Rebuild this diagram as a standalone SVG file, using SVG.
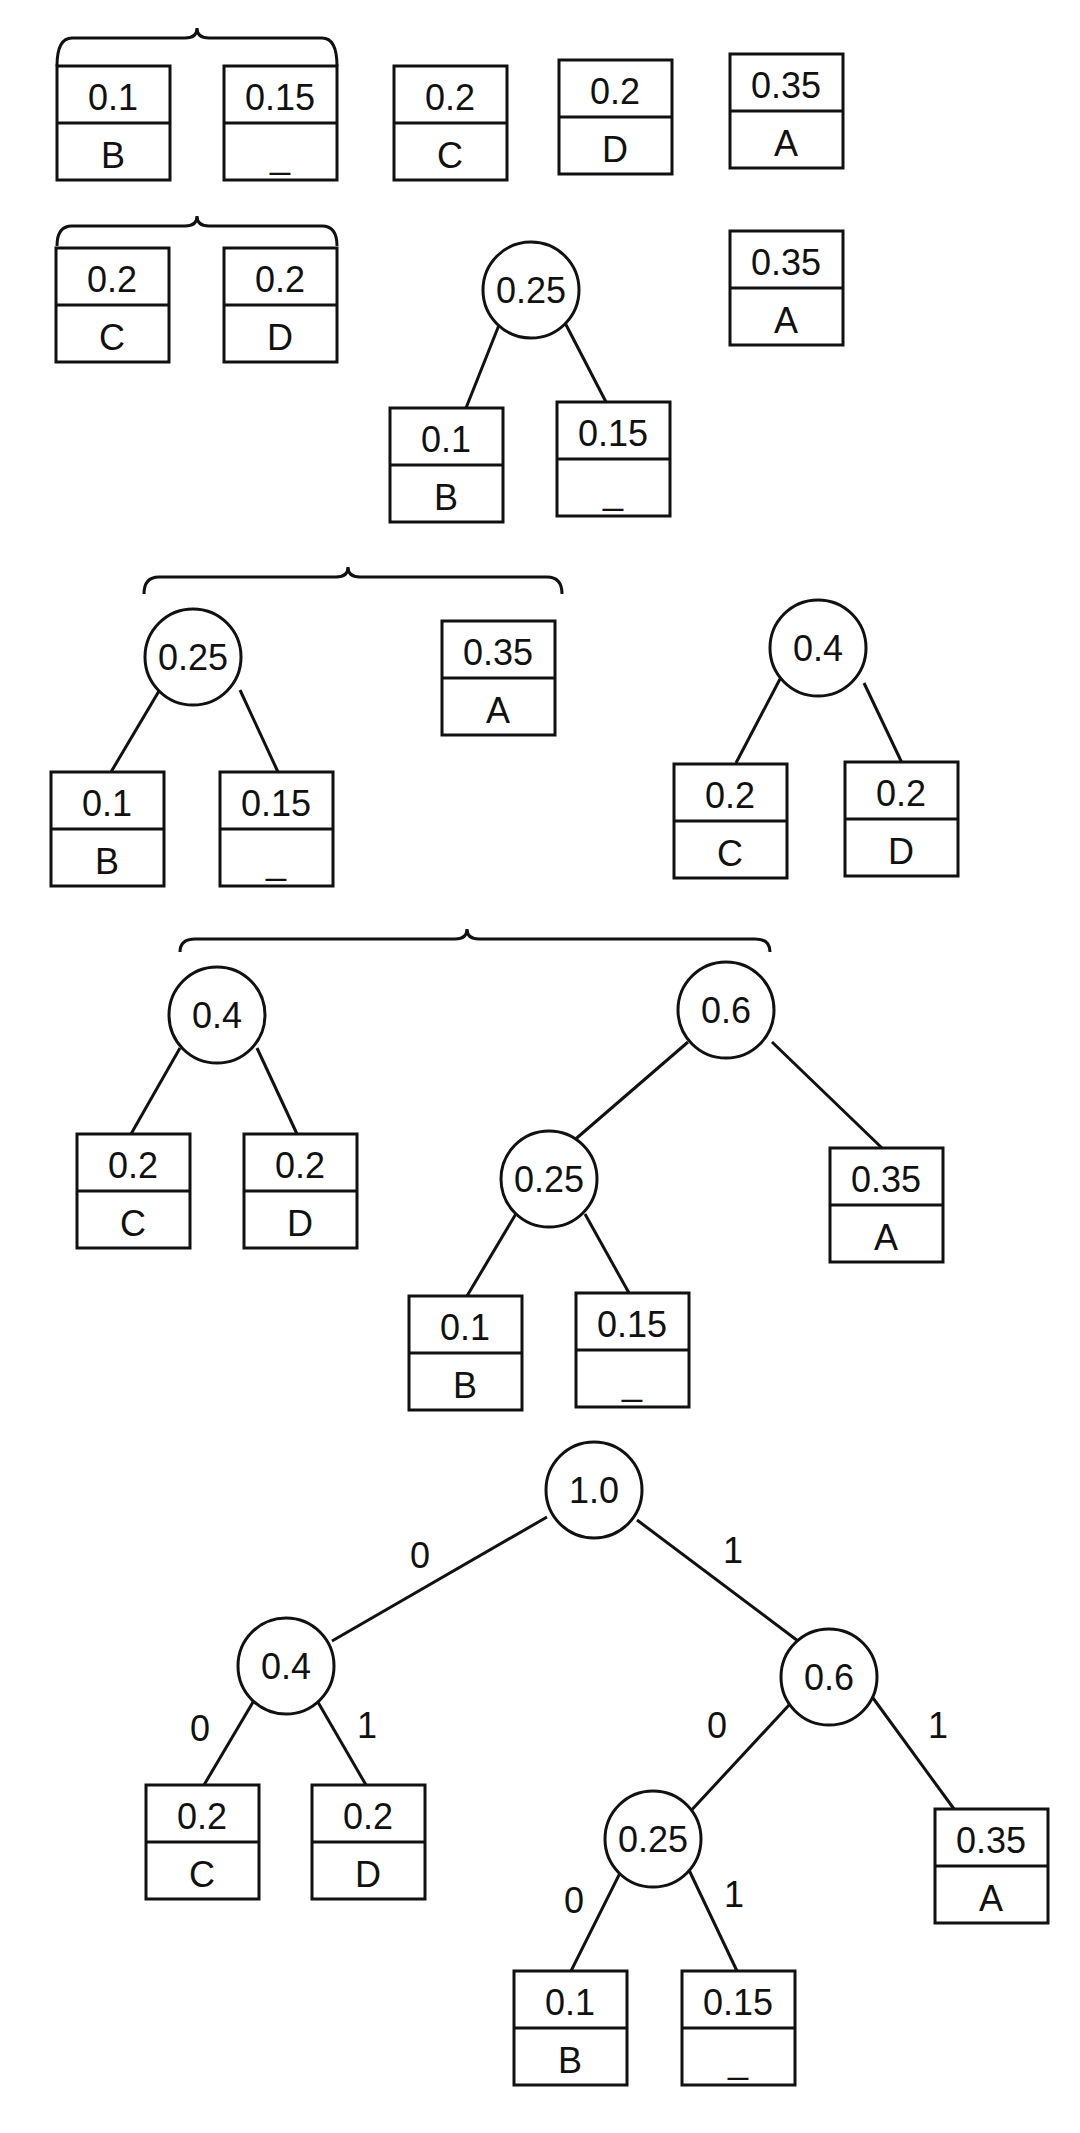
<svg xmlns="http://www.w3.org/2000/svg" width="1080" height="2133" viewBox="0 0 1080 2133">
<style>
rect,circle{fill:#fff;stroke:#111;stroke-width:3}
.d,.e line,path{stroke:#111;stroke-width:3;fill:none}
text{font-family:"Liberation Sans",Arial,sans-serif;font-size:36px;fill:#111;text-anchor:middle}
</style>
<defs>
<g id="bx"><rect width="113" height="114"/><line class="d" x1="0" y1="57" x2="113" y2="57"/></g>
</defs>
<rect x="0" y="0" width="1080" height="2133" style="fill:#fff;stroke:none"/>
<g id="braces">
<path d="M57,66 Q57,38 72,38 L185,38 Q197,38 197,28 Q197,38 209,38 L322,38 Q337,38 337,66"/>
<path d="M57,246 Q57,226 72,226 L185,226 Q197,226 197,216 Q197,226 209,226 L322,226 Q337,226 337,246"/>
<path d="M144,594 Q144,577 159,577 L336,577 Q348,577 348,567 Q348,577 360,577 L547,577 Q562,577 562,594"/>
<path d="M180,952 Q180,939 195,939 L455,939 Q467,939 467,929 Q467,939 479,939 L755,939 Q770,939 770,952"/>
</g>
<g id="connectors" class="e">
<line x1="501" y1="320" x2="466" y2="408"/><line x1="562" y1="317" x2="606" y2="402"/>
<line x1="159" y1="691" x2="111" y2="772"/><line x1="240" y1="690" x2="278" y2="772"/>
<line x1="780" y1="679" x2="736" y2="763"/><line x1="864" y1="683" x2="902" y2="763"/>
<line x1="180" y1="1048" x2="131" y2="1134"/><line x1="257" y1="1048" x2="297" y2="1134"/>
<line x1="688" y1="1042" x2="571" y2="1143"/><line x1="772" y1="1042" x2="882" y2="1148"/>
<line x1="517" y1="1212" x2="467" y2="1296"/><line x1="585" y1="1214" x2="629" y2="1293"/>
<line x1="547" y1="1517" x2="332" y2="1641"/><line x1="637" y1="1520" x2="802" y2="1644"/>
<line x1="256" y1="1697" x2="204" y2="1785"/><line x1="315" y1="1697" x2="366" y2="1785"/>
<line x1="790" y1="1704" x2="687" y2="1815"/><line x1="873" y1="1698" x2="954" y2="1809"/>
<line x1="621" y1="1871" x2="571" y2="1971"/><line x1="689" y1="1870" x2="737" y2="1971"/>
<text x="420" y="1568">0</text><text x="733" y="1563">1</text>
<text x="200" y="1741">0</text><text x="367" y="1738">1</text>
<text x="717" y="1738">0</text><text x="938" y="1738">1</text>
<text x="574" y="1913">0</text><text x="734" y="1907">1</text>
</g>
<g id="r1B" transform="translate(57,66)"><use href="#bx"/><text x="56" y="44">0.1</text><text x="56" y="102">B</text></g>
<g id="r1U" transform="translate(224,66)"><use href="#bx"/><text x="56" y="44">0.15</text><text x="56" y="102">_</text></g>
<g id="r1C" transform="translate(394,66)"><use href="#bx"/><text x="56" y="44">0.2</text><text x="56" y="102">C</text></g>
<g id="r1D" transform="translate(559,60)"><use href="#bx"/><text x="56" y="44">0.2</text><text x="56" y="102">D</text></g>
<g id="r1A" transform="translate(730,54)"><use href="#bx"/><text x="56" y="44">0.35</text><text x="56" y="102">A</text></g>
<g id="r2C" transform="translate(56,248)"><use href="#bx"/><text x="56" y="44">0.2</text><text x="56" y="102">C</text></g>
<g id="r2D" transform="translate(224,248)"><use href="#bx"/><text x="56" y="44">0.2</text><text x="56" y="102">D</text></g>
<g id="r2n25"><circle cx="531" cy="290" r="48"/><text x="531" y="303">0.25</text></g>
<g id="r2A" transform="translate(730,231)"><use href="#bx"/><text x="56" y="44">0.35</text><text x="56" y="102">A</text></g>
<g id="r2B" transform="translate(390,408)"><use href="#bx"/><text x="56" y="44">0.1</text><text x="56" y="102">B</text></g>
<g id="r2U" transform="translate(557,402)"><use href="#bx"/><text x="56" y="44">0.15</text><text x="56" y="102">_</text></g>
<g id="r3n25"><circle cx="193" cy="657" r="48"/><text x="193" y="670">0.25</text></g>
<g id="r3B" transform="translate(51,772)"><use href="#bx"/><text x="56" y="44">0.1</text><text x="56" y="102">B</text></g>
<g id="r3U" transform="translate(220,772)"><use href="#bx"/><text x="56" y="44">0.15</text><text x="56" y="102">_</text></g>
<g id="r3A" transform="translate(442,621)"><use href="#bx"/><text x="56" y="44">0.35</text><text x="56" y="102">A</text></g>
<g id="r3n4"><circle cx="818" cy="648" r="48"/><text x="818" y="661">0.4</text></g>
<g id="r3C" transform="translate(674,764)"><use href="#bx"/><text x="56" y="44">0.2</text><text x="56" y="102">C</text></g>
<g id="r3D" transform="translate(845,762)"><use href="#bx"/><text x="56" y="44">0.2</text><text x="56" y="102">D</text></g>
<g id="r4n4"><circle cx="217" cy="1015" r="48"/><text x="217" y="1028">0.4</text></g>
<g id="r4C" transform="translate(77,1134)"><use href="#bx"/><text x="56" y="44">0.2</text><text x="56" y="102">C</text></g>
<g id="r4D" transform="translate(244,1134)"><use href="#bx"/><text x="56" y="44">0.2</text><text x="56" y="102">D</text></g>
<g id="r4n6"><circle cx="726" cy="1010" r="48"/><text x="726" y="1023">0.6</text></g>
<g id="r4n25"><circle cx="549" cy="1179" r="48"/><text x="549" y="1192">0.25</text></g>
<g id="r4A" transform="translate(830,1148)"><use href="#bx"/><text x="56" y="44">0.35</text><text x="56" y="102">A</text></g>
<g id="r4B" transform="translate(409,1296)"><use href="#bx"/><text x="56" y="44">0.1</text><text x="56" y="102">B</text></g>
<g id="r4U" transform="translate(576,1293)"><use href="#bx"/><text x="56" y="44">0.15</text><text x="56" y="102">_</text></g>
<g id="r5n10"><circle cx="594" cy="1490" r="48"/><text x="594" y="1503">1.0</text></g>
<g id="r5n4"><circle cx="286" cy="1666" r="48"/><text x="286" y="1679">0.4</text></g>
<g id="r5n6"><circle cx="829" cy="1677" r="48"/><text x="829" y="1690">0.6</text></g>
<g id="r5n25"><circle cx="653" cy="1839" r="48"/><text x="653" y="1852">0.25</text></g>
<g id="r5C" transform="translate(146,1785)"><use href="#bx"/><text x="56" y="44">0.2</text><text x="56" y="102">C</text></g>
<g id="r5D" transform="translate(312,1785)"><use href="#bx"/><text x="56" y="44">0.2</text><text x="56" y="102">D</text></g>
<g id="r5A" transform="translate(935,1809)"><use href="#bx"/><text x="56" y="44">0.35</text><text x="56" y="102">A</text></g>
<g id="r5B" transform="translate(514,1971)"><use href="#bx"/><text x="56" y="44">0.1</text><text x="56" y="102">B</text></g>
<g id="r5U" transform="translate(682,1971)"><use href="#bx"/><text x="56" y="44">0.15</text><text x="56" y="102">_</text></g>
</svg>
